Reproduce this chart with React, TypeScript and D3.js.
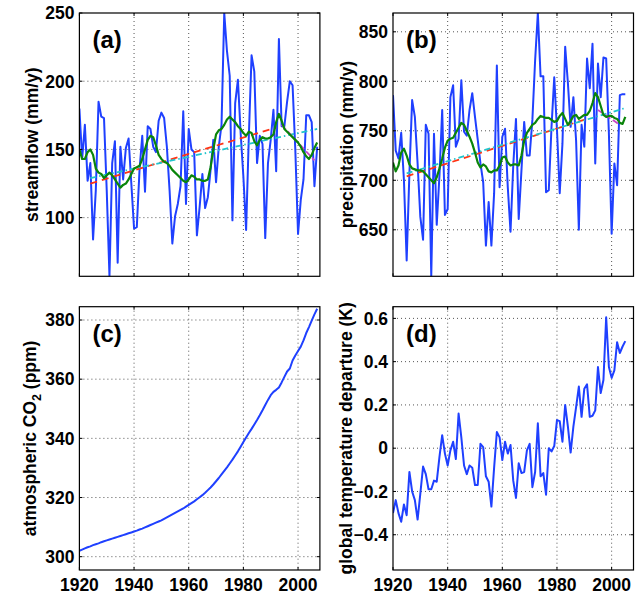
import React from 'react';
import * as d3 from 'd3';

// ---------- data ----------
const X_DOMAIN = [1920, 2008];
const X_TICKS = [1920, 1940, 1960, 1980, 2000];

// (a) streamflow, annual, 1920-2007
const streamStart = 1920;
const streamflow = [
  180, 143, 168, 127, 140, 84, 120, 185, 174, 173,
  120, 57, 140, 156, 67, 152, 128, 151, 158, 125,
  92, 93, 135, 160, 119, 167, 165, 152, 148, 171,
  177, 173, 152, 120, 81, 101, 110, 123, 178, 110,
  165, 150, 148, 87, 108, 132, 107, 115, 135, 157,
  126, 152, 168, 250, 222, 204, 98, 184, 201, 162,
  130, 91, 160, 219, 207, 140, 160, 154, 85, 140,
  157, 179, 134, 231, 167, 167, 185, 200, 197, 150,
  88, 113, 128, 175, 175, 170, 123, 152,
];
const streamSmooth = [
  150, 143, 143, 148, 150, 146, 136, 133, 132, 129,
  131, 133, 131, 128, 125, 122, 124, 125, 128, 132,
  136, 137, 138, 143, 150, 157, 160, 159, 153, 146,
  143, 141, 140, 138, 135, 133, 131, 129, 127, 126,
  128, 131, 130, 128, 128, 127, 127, 128, 137, 150,
  161, 164, 165, 168, 172, 174, 172, 170, 167, 165,
  162, 160, 163, 162, 156, 153, 157, 159, 158, 158,
  159, 161, 170, 176, 171, 165, 163, 161, 159, 157,
  155, 152, 148, 145, 143, 146, 151, 155,
];
const streamTrendRedYears = [1924, 1992];
const streamTrendRed = [125, 166];
const streamTrendCyanYears = [1924, 2007];
const streamTrendCyan = [129, 165];
const streamTrendMagYears = [1994, 2006];
const streamTrendMag = [168, 142];

// (b) precipitation, annual, 1920-2005
const precipStart = 1920;
const precipitation = [
  786, 730, 722, 748, 700, 619, 707, 781, 764, 717,
  663, 640, 756, 747, 603, 747, 655, 705, 771, 665,
  671, 784, 796, 734, 742, 801, 749, 745, 771, 788,
  764, 741, 717, 698, 634, 678, 634, 687, 816, 693,
  744, 752, 693, 648, 715, 762, 661, 710, 759, 725,
  725, 761, 821, 869, 805, 805, 688, 690, 754, 804,
  751, 687, 737, 835, 798, 754, 784, 740, 650, 756,
  734, 823, 793, 838, 717, 818, 784, 824, 823, 747,
  646, 717, 695, 786, 787, 787,
];
const precipSmooth = [
  718, 709, 715, 728, 732, 725, 716, 712, 711, 710,
  710, 709, 706, 703, 700, 697, 703, 712, 722, 733,
  740, 742, 743, 748, 753, 758, 756, 750, 744, 737,
  728, 718, 713, 716, 714, 709, 708, 710, 710, 715,
  723, 724, 718, 715, 716, 716, 715, 725, 740, 748,
  752, 756, 758, 762, 765, 764, 763, 763, 761, 759,
  760, 765, 768, 762, 756, 760, 765, 766, 762, 764,
  766, 766, 770, 778, 788, 784, 775, 766, 764, 765,
  765, 763, 762, 758, 757, 764,
];
const precipTrendRedYears = [1925, 1991];
const precipTrendRed = [704, 762];
const precipTrendCyanYears = [1925, 2005];
const precipTrendCyan = [707, 773];
const precipTrendMagYears = [1995, 2003];
const precipTrendMag = [771, 756];

// (c) atmospheric CO2, 1920-2007
const co2Start = 1920;
const co2 = [
  302.0, 302.4, 302.8, 303.2, 303.5, 303.9, 304.2, 304.5, 304.9, 305.2,
  305.5, 305.8, 306.1, 306.4, 306.7, 307.0, 307.3, 307.6, 307.9, 308.2,
  308.5, 308.8, 309.2, 309.5, 309.9, 310.3, 310.7, 311.1, 311.5, 311.9,
  312.3, 312.8, 313.3, 313.8, 314.3, 314.8, 315.3, 315.8, 316.3, 316.9,
  317.5, 318.1, 318.7, 319.4, 320.1, 320.8, 321.6, 322.5, 323.4, 324.4,
  325.5, 326.6, 327.8, 329.0, 330.2, 331.5, 332.8, 334.2, 335.6, 337.2,
  338.8, 340.3, 341.8, 343.2, 344.7, 346.2, 347.8, 349.5, 351.3, 353.0,
  354.6, 355.7, 356.4, 357.2, 358.9, 360.8, 362.6, 363.6, 366.3, 368.0,
  369.5, 371.0, 373.1, 375.6, 377.6, 379.8, 381.9, 383.8,
];

// (d) global temperature departure, 1920-2005
const tempStart = 1920;
const temperature = [
  -0.30, -0.24, -0.30, -0.34, -0.26, -0.31, -0.11, -0.20, -0.24, -0.33,
  -0.21, -0.085, -0.12, -0.19, -0.19, -0.15, -0.155, -0.04, 0.06, -0.025,
  -0.08, -0.01, 0.03, -0.05, 0.16, 0.05, -0.08, -0.12, -0.08, -0.09,
  -0.17, -0.17, 0.02, 0.005, -0.13, -0.155, -0.27, -0.09, 0.075, 0.05,
  -0.055, 0.03, -0.025, 0.015, -0.15, -0.23, -0.07, -0.115, -0.11, -0.01,
  0.02, -0.18, -0.11, 0.115, -0.13, -0.115, -0.215, 0.0, -0.015, 0.01,
  0.13, 0.125, 0.03, 0.20, 0.10, -0.02, 0.10, 0.19, 0.285, 0.145,
  0.275, 0.295, 0.145, 0.15, 0.175, 0.375, 0.255, 0.315, 0.605, 0.375,
  0.325, 0.36, 0.49, 0.44, 0.47, 0.495,
];

const yTicksA = [100, 150, 200, 250];
const yTicksB = [650, 700, 750, 800, 850];
const yTicksC = [300, 320, 340, 360, 380];
const yTicksD = [-0.4, -0.2, 0, 0.2, 0.4, 0.6];

// ---------- styling ----------
const FONT = '"Liberation Sans", Arial, Helvetica, sans-serif';
const BLUE = '#1f40ff';
const GREEN = '#0a850a';
const RED = '#ff3414';
const CYAN = '#22c4cc';
const MAGENTA = '#c844c8';

type Series = {
  years: number[];
  values: number[];
  color: string;
  width: number;
  dash?: string;
};

const seq = (start: number, values: number[]) => values.map((_, i) => start + i);

type PanelProps = {
  id: string;
  left: number;
  top: number;
  width: number;
  height: number;
  yDomain: [number, number];
  yTicks: number[];
  yFmt: (v: number) => string;
  showX: boolean;
  ylabel: React.ReactNode;
  ylabelX: number;
  tag: string;
  series: Series[];
};

function Panel(p: PanelProps) {
  const x = d3.scaleLinear().domain(X_DOMAIN).range([p.left, p.left + p.width]);
  const y = d3.scaleLinear().domain(p.yDomain).range([p.top + p.height, p.top]);
  const right = p.left + p.width;
  const bottom = p.top + p.height;
  const tl = 3;
  const grid = { stroke: '#555', strokeWidth: 1, strokeDasharray: '1 3' };
  const gridX = X_TICKS.filter((t) => t > X_DOMAIN[0] && t < X_DOMAIN[1]);
  const gridY = p.yTicks.filter((t) => y(t) > p.top + 0.5 && y(t) < bottom - 0.5);
  const clipId = `clip-${p.id}`;
  return (
    <g>
      <defs>
        <clipPath id={clipId}>
          <rect x={p.left} y={p.top} width={p.width} height={p.height} />
        </clipPath>
      </defs>
      <rect x={p.left} y={p.top} width={p.width} height={p.height} fill="#fff" />
      {gridX.map((t) => (
        <line key={`gx${t}`} x1={x(t)} x2={x(t)} y1={p.top} y2={bottom} {...grid} />
      ))}
      {gridY.map((t) => (
        <line key={`gy${t}`} x1={p.left} x2={right} y1={y(t)} y2={y(t)} {...grid} />
      ))}
      <g clipPath={`url(#${clipId})`}>
        {p.series.map((s, i) => {
          const line = d3
            .line<number>()
            .x((_, j) => x(s.years[j]))
            .y((v) => y(v));
          return (
            <path
              key={i}
              d={line(s.values) || ''}
              fill="none"
              stroke={s.color}
              strokeWidth={s.width}
              strokeDasharray={s.dash}
              strokeLinejoin="round"
            />
          );
        })}
      </g>
      {/* ticks */}
      {X_TICKS.map((t) => (
        <g key={`tx${t}`}>
          <line x1={x(t)} x2={x(t)} y1={bottom} y2={bottom - tl} stroke="#000" />
          <line x1={x(t)} x2={x(t)} y1={p.top} y2={p.top + tl} stroke="#000" />
        </g>
      ))}
      {p.yTicks.map((t) => (
        <g key={`ty${t}`}>
          <line x1={p.left} x2={p.left + tl} y1={y(t)} y2={y(t)} stroke="#000" />
          <line x1={right} x2={right - tl} y1={y(t)} y2={y(t)} stroke="#000" />
        </g>
      ))}
      <rect x={p.left} y={p.top} width={p.width} height={p.height} fill="none" stroke="#000" strokeWidth={1.2} />
      {/* tick labels */}
      {p.yTicks.map((t) => (
        <text
          key={`yl${t}`}
          x={p.left - 5}
          y={y(t)}
          dy="0.36em"
          textAnchor="end"
          fontFamily={FONT}
          fontWeight="bold"
          fontSize={17.5}
        >
          {p.yFmt(t)}
        </text>
      ))}
      {p.showX &&
        X_TICKS.map((t) => (
          <text
            key={`xl${t}`}
            x={x(t)}
            y={591}
            textAnchor="middle"
            fontFamily={FONT}
            fontWeight="bold"
            fontSize={17.5}
          >
            {t}
          </text>
        ))}
      <text
        transform={`translate(${p.ylabelX},${p.top + p.height / 2}) rotate(-90)`}
        textAnchor="middle"
        fontFamily={FONT}
        fontWeight="bold"
        fontSize={17.5}
      >
        {p.ylabel}
      </text>
      <text x={p.left + 13} y={p.top + 35} fontFamily={FONT} fontWeight="bold" fontSize={24}>
        {p.tag}
      </text>
    </g>
  );
}

const fmtInt = (v: number) => String(v);
const fmtD = (v: number) => (v < 0 ? '\u2212' + Math.abs(v).toFixed(1) : v === 0 ? '0' : v.toFixed(1));

export default function App() {
  const L1 = 79.4;
  const L2 = 393;
  const W = 240.5;
  const T1 = 13;
  const T2 = 306.7;
  const H = 263.3;
  return (
    <svg
      width={638}
      height={595}
      style={{ position: 'absolute', left: 0, top: 0, background: '#fff' }}
    >
      <Panel
        id="a"
        left={L1}
        top={T1}
        width={W}
        height={H}
        yDomain={[57, 250]}
        yTicks={yTicksA}
        yFmt={fmtInt}
        showX={false}
        ylabel="streamflow (mm/y)"
        ylabelX={37.5}
        tag="(a)"
        series={[
          { years: seq(streamStart, streamflow), values: streamflow, color: BLUE, width: 2 },
          { years: streamTrendRedYears, values: streamTrendRed, color: RED, width: 1.8, dash: '7 5' },
          { years: streamTrendCyanYears, values: streamTrendCyan, color: CYAN, width: 1.8, dash: '6 3 1.5 3' },
          { years: streamTrendMagYears, values: streamTrendMag, color: MAGENTA, width: 1.8, dash: '6 3' },
          { years: seq(streamStart, streamSmooth), values: streamSmooth, color: GREEN, width: 2.2 },
        ]}
      />
      <Panel
        id="b"
        left={L2}
        top={T1}
        width={W}
        height={H}
        yDomain={[603, 869]}
        yTicks={yTicksB}
        yFmt={fmtInt}
        showX={false}
        ylabel="precipitation (mm/y)"
        ylabelX={352.5}
        tag="(b)"
        series={[
          { years: seq(precipStart, precipitation), values: precipitation, color: BLUE, width: 2 },
          { years: precipTrendRedYears, values: precipTrendRed, color: RED, width: 1.8, dash: '7 5' },
          { years: precipTrendCyanYears, values: precipTrendCyan, color: CYAN, width: 1.8, dash: '6 3 1.5 3' },
          { years: precipTrendMagYears, values: precipTrendMag, color: MAGENTA, width: 1.8, dash: '6 3' },
          { years: seq(precipStart, precipSmooth), values: precipSmooth, color: GREEN, width: 2.2 },
        ]}
      />
      <Panel
        id="c"
        left={L1}
        top={T2}
        width={W}
        height={H}
        yDomain={[295.5, 384.5]}
        yTicks={yTicksC}
        yFmt={fmtInt}
        showX={true}
        ylabel={
          <>
            atmospheric CO
            <tspan fontSize={12.5} dy={5}>2</tspan>
            <tspan dy={-5}> (ppm)</tspan>
          </>
        }
        ylabelX={36}
        tag="(c)"
        series={[{ years: seq(co2Start, co2), values: co2, color: BLUE, width: 2 }]}
      />
      <Panel
        id="d"
        left={L2}
        top={T2}
        width={W}
        height={H}
        yDomain={[-0.563, 0.654]}
        yTicks={yTicksD}
        yFmt={fmtD}
        showX={true}
        ylabel="global temperature departure (K)"
        ylabelX={352}
        tag="(d)"
        series={[{ years: seq(tempStart, temperature), values: temperature, color: BLUE, width: 2 }]}
      />
    </svg>
  );
}
